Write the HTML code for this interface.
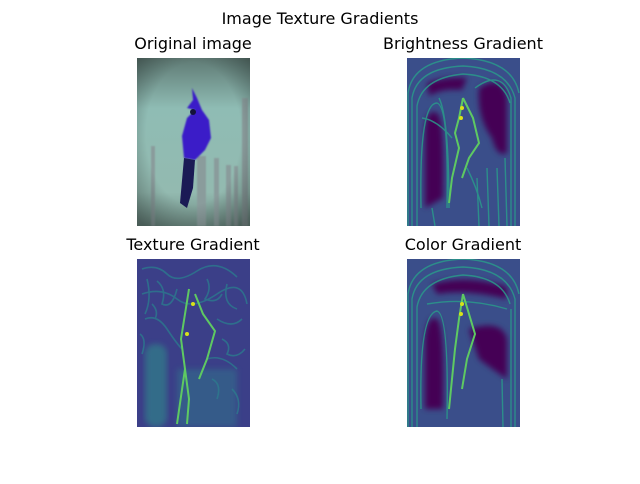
<!DOCTYPE html>
<html><head><meta charset="utf-8"><style>
body{margin:0;background:#fff;width:640px;height:480px;overflow:hidden;font-family:"DejaVu Sans","Liberation Sans",sans-serif}
</style></head><body>
<svg width="640" height="480" viewBox="0 0 640 480" xmlns="http://www.w3.org/2000/svg" font-family="DejaVu Sans, Liberation Sans, sans-serif">
<defs>
<linearGradient id="bg1" x1="0" y1="0" x2="0" y2="1"><stop offset="0" stop-color="#5f7a74"/><stop offset="0.3" stop-color="#8fbcb4"/><stop offset="0.8" stop-color="#93bab0"/><stop offset="1" stop-color="#6f8c84"/></linearGradient>
<radialGradient id="vig" cx="0.5" cy="0.45" r="0.7"><stop offset="0.6" stop-color="#000" stop-opacity="0"/><stop offset="1" stop-color="#000" stop-opacity="0.35"/></radialGradient>
<filter id="blur1"><feGaussianBlur stdDeviation="0.8"/></filter>
<filter id="blur3"><feGaussianBlur stdDeviation="3"/></filter>
<clipPath id="cp"><rect width="113" height="168"/></clipPath>
</defs>
<text x="320" y="24" font-size="16" text-anchor="middle">Image Texture Gradients</text>

<text x="193" y="49" font-size="16" text-anchor="middle">Original image</text>
<text x="463" y="49" font-size="16" text-anchor="middle">Brightness Gradient</text>
<text x="193" y="250" font-size="16" text-anchor="middle">Texture Gradient</text>
<text x="463" y="250" font-size="16" text-anchor="middle">Color Gradient</text>

<!-- Original -->
<g transform="translate(137,58)" clip-path="url(#cp)">
<rect width="113" height="168" fill="url(#bg1)"/>
<g fill="#8a9c9c" filter="url(#blur1)">
<rect x="14" y="88" width="4" height="80"/><rect x="60" y="98" width="9" height="70"/><rect x="77" y="100" width="5" height="68"/>
<rect x="89" y="107" width="5" height="61"/><rect x="97" y="108" width="4" height="60"/><rect x="105" y="40" width="6" height="128"/>
</g>
<path d="M55,30 L56,42 L50,50 L58,52 L50,60 L45,78 L47,100 L58,102 L68,92 L74,80 L72,62 L65,52 L60,40 Z" fill="#3a1fc8" filter="url(#blur1)"/>
<path d="M47,100 L43,145 L50,150 L56,130 L58,102 Z" fill="#1b1a55"/>
<circle cx="56" cy="54" r="3" fill="#14123a"/>
<rect width="113" height="168" fill="url(#vig)"/>
</g>

<!-- Brightness gradient -->
<g transform="translate(407,58)" clip-path="url(#cp)">
<rect width="113" height="168" fill="#3a4e8a"/>
<g fill="#440154" filter="url(#blur3)">
<path d="M18,150 L18,70 Q20,50 30,55 Q38,60 36,140 Z"/>
<path d="M72,30 Q95,15 100,40 L100,95 Q90,100 85,80 Q70,60 72,30 Z"/>
<path d="M20,25 Q40,18 60,20 L55,32 Q35,30 22,38 Z"/>
</g>
<g fill="none" stroke="#2a9a8a" stroke-width="1.4" opacity="0.85">
<path d="M1,168 L1,35 Q6,2 56,0 Q105,2 112,35"/>
<path d="M5,168 L5,40 Q10,10 56,8 Q100,10 108,40 L108,168"/>
<path d="M10,168 L10,48 Q15,20 56,16 Q95,18 103,45"/>
<path d="M14,150 Q12,45 30,45 Q42,48 40,150"/>
<path d="M42,150 Q42,60 32,40"/>
<path d="M68,30 Q95,10 104,40 L104,168"/>
<path d="M90,110 L92,168 M80,110 L82,168 M25,150 L28,168 M70,120 L72,168 M98,100 L100,168"/>
<path d="M15,60 Q30,62 45,80 M60,110 Q70,130 75,150"/>
</g>
<path d="M56,40 L52,60 L48,75 L52,90 L45,120 L42,145 M56,40 L66,60 L72,85 L62,100 L55,120" fill="none" stroke="#5ec962" stroke-width="2"/>
<circle cx="55" cy="50" r="2" fill="#d8e219"/><circle cx="54" cy="60" r="2" fill="#d8e219"/>
</g>

<!-- Texture gradient -->
<g transform="translate(137,259)" clip-path="url(#cp)">
<rect width="113" height="168" fill="#3b3f88"/>
<g fill="none" stroke="#2b7a8e" stroke-width="1.6" opacity="0.8">
<path d="M5,10 Q20,5 30,15 T60,12 T100,18"/><path d="M5,35 Q25,28 40,40 T80,35 T110,45"/>
<path d="M8,60 Q20,55 30,70 T45,90"/><path d="M80,60 Q95,70 105,60"/><path d="M70,100 Q85,95 100,110"/>
<path d="M10,20 Q15,40 8,55"/><path d="M90,25 Q85,45 100,50"/>
<path d="M20,22 Q30,30 25,45 Q35,50 40,30"/><path d="M70,20 Q75,30 68,40 Q80,45 85,35"/>
<path d="M3,75 Q10,80 5,95"/><path d="M85,80 Q95,85 90,95 Q100,100 108,90"/>
<path d="M15,45 Q22,52 18,60"/><path d="M95,130 Q105,140 100,155"/><path d="M75,120 Q85,125 80,140"/>
</g>
<rect x="8" y="85" width="22" height="83" rx="10" fill="#2f8a8a" opacity="0.6" filter="url(#blur3)"/>
<rect x="40" y="110" width="60" height="58" fill="#2f7d8c" opacity="0.45" filter="url(#blur3)"/>
<path d="M52,30 L48,55 L44,80 L48,110 L40,165 M58,35 L66,55 L78,72 L70,100 L62,120 M48,110 L52,140 L50,165" fill="none" stroke="#5ec962" stroke-width="2"/>
<circle cx="56" cy="45" r="2" fill="#d8e219"/><circle cx="50" cy="75" r="2" fill="#d8e219"/>
</g>

<!-- Color gradient -->
<g transform="translate(407,259)" clip-path="url(#cp)">
<rect width="113" height="168" fill="#3a4e8a"/>
<g fill="#440154" filter="url(#blur3)">
<path d="M18,150 L18,80 Q20,55 30,60 Q38,65 36,150 Z"/>
<path d="M62,70 Q95,60 100,80 L100,120 Q85,110 72,100 Z"/>
<path d="M25,25 Q60,15 100,28 L100,40 Q60,30 30,35 Z"/>
</g>
<g fill="none" stroke="#2a9a8a" stroke-width="1.4" opacity="0.85">
<path d="M1,168 L1,35 Q6,2 56,0 Q105,2 112,35"/>
<path d="M5,168 L5,40 Q10,10 56,8 Q100,10 108,40 L108,168"/>
<path d="M10,168 L10,48 Q15,20 56,16 Q95,18 103,45"/>
<path d="M14,150 Q12,55 30,52 Q42,55 40,160"/>
<path d="M104,50 L104,168 M95,120 L96,168 M20,45 Q60,38 100,50"/>
</g>
<path d="M56,35 L52,60 L48,90 L45,120 L42,150 M56,35 L68,75 L60,100 L55,130" fill="none" stroke="#5ec962" stroke-width="2"/>
<circle cx="55" cy="45" r="2" fill="#d8e219"/><circle cx="54" cy="55" r="2" fill="#d8e219"/>
</g>
</svg>
</body></html>
